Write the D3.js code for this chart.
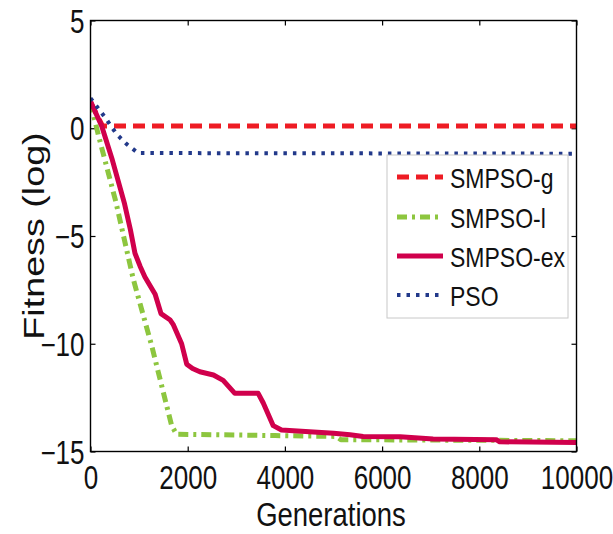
<!DOCTYPE html>
<html><head><meta charset="utf-8">
<script src="https://cdn.jsdelivr.net/npm/d3@7"></script>
<style>body{margin:0;background:#fff}svg{display:block}text{font-family:"Liberation Sans",Arial,sans-serif;fill:#111}</style>
</head><body><svg id="c" width="613" height="534"></svg>
<script>
// ---- data ----
const seriesNames = ["SMPSO-g","SMPSO-l","SMPSO-ex","PSO"];
const smpsoG_gen = [0,250,10000];
const smpsoG_fit = [1.2,0.1,0.1];
const smpsoL_gen = [0,160,520,880,1260,1670,1770,2500,3800,5050,5150,10000];
const smpsoL_fit = [1.2,-0.3,-3.4,-7.0,-10.1,-13.8,-14.2,-14.22,-14.26,-14.3,-14.45,-14.5];
const smpsoEx_gen = [0,230,440,700,820,915,1020,1120,1330,1450,1640,1700,1875,1980,2100,2250,2530,2730,2970,3450,3555,3760,3930,5000,5340,5610,6370,7050,8350,8420,10000];
const smpsoEx_fit = [1.25,0.1,-1.4,-3.5,-4.7,-5.8,-6.4,-6.9,-7.7,-8.6,-8.9,-9.1,-10.0,-10.95,-11.15,-11.3,-11.45,-11.7,-12.3,-12.3,-12.75,-13.8,-14.0,-14.15,-14.22,-14.3,-14.32,-14.42,-14.45,-14.55,-14.58];
const pso_gen = [0,300,540,745,980,10000];
const pso_fit = [1.4,0.5,-0.28,-0.74,-1.15,-1.18];
const xTicks = [0,2000,4000,6000,8000,10000];
const yTicks = [-15,-10,-5,0,5];

// ---- layout ----
const L=90.5, R=576.5, T=20.5, B=451.5, K=1.25;
const svg = d3.select("#c");
const x = d3.scaleLinear().domain([0,10000]).range([L,R]);
const y = d3.scaleLinear().domain([-15,5]).range([B,T]);

svg.append("defs").append("clipPath").attr("id","clip")
  .append("rect").attr("x",L).attr("y",T).attr("width",R-L).attr("height",B-T);

// axes
const ax = (g, gen, tx) => { g.attr("transform", tx).call(gen); g.select(".domain").remove();
  g.selectAll(".tick line").attr("stroke","#000").attr("stroke-width",1.2); return g; };
const xb = ax(svg.append("g"), d3.axisBottom(x).tickValues(xTicks).tickSize(-5).tickFormat(d3.format("d")), `translate(0,${B})`);
xb.selectAll(".tick text").attr("y",null).attr("dy",null).attr("text-anchor","middle")
  .attr("transform",`translate(0,37) scale(1,${K})`).style("font-size","26px").style("fill","#111");
const yl = ax(svg.append("g"), d3.axisLeft(y).tickValues(yTicks).tickSize(-5).tickFormat(d3.format("d")), `translate(${L},0)`);
yl.selectAll(".tick text").attr("x",null).attr("dy",null).attr("text-anchor","end")
  .attr("transform",`translate(-6,11.5) scale(1,${K})`).style("font-size","26px").style("fill","#111");
ax(svg.append("g"), d3.axisTop(x).tickValues(xTicks).tickSize(-5).tickFormat(""), `translate(0,${T})`);
ax(svg.append("g"), d3.axisRight(y).tickValues(yTicks).tickSize(-5).tickFormat(""), `translate(${R},0)`);

// lines
const styles = [
  {gen:smpsoG_gen, fit:smpsoG_fit, color:"#ee1c24", w:5, dash:"12,7"},
  {gen:smpsoL_gen, fit:smpsoL_fit, color:"#8dc63f", w:5, dash:"10,5,3,5"},
  {gen:smpsoEx_gen, fit:smpsoEx_fit, color:"#d0004c", w:5, dash:null},
  {gen:pso_gen, fit:pso_fit, color:"#22398a", w:4, dash:"3.5,6"}
];
const line = d3.line().x(d=>x(d[0])).y(d=>y(d[1]));
const pg = svg.append("g").attr("clip-path","url(#clip)");
styles.forEach(s=>{
  pg.append("path").datum(s.gen.map((g,i)=>[g,s.fit[i]]))
    .attr("d",line).attr("fill","none").attr("stroke",s.color).attr("stroke-width",s.w)
    .attr("stroke-dasharray",s.dash).attr("stroke-linejoin","round");
});

// frame
svg.append("rect").attr("x",L).attr("y",T).attr("width",R-L).attr("height",B-T)
  .attr("fill","none").attr("stroke","#000").attr("stroke-width",1.4);

// legend
const lg = svg.append("g");
lg.append("rect").attr("x",387).attr("y",155).attr("width",181).attr("height",163)
  .attr("fill","#fff").attr("stroke","#c8c8c8").attr("stroke-width",1);
const ly = [177,217,256,295];
styles.forEach((s,i)=>{
  lg.append("line").attr("x1",397).attr("x2",443).attr("y1",ly[i]).attr("y2",ly[i])
    .attr("stroke",s.color).attr("stroke-width",s.w).attr("stroke-dasharray",s.dash);
  lg.append("text").attr("transform",`translate(450,${ly[i]+10.5}) scale(1,1.2)`)
    .style("font-size","23px").text(seriesNames[i]);
});

// axis titles
svg.append("text").attr("text-anchor","middle").attr("transform",`translate(331,526) scale(1,1.22)`)
  .style("font-size","27.5px").text("Generations");
svg.append("text").attr("text-anchor","middle").attr("transform",`translate(43.5,236) scale(1,1.3) rotate(-90)`)
  .style("font-size","29px").text("Fitness (log)");
</script></body></html>
